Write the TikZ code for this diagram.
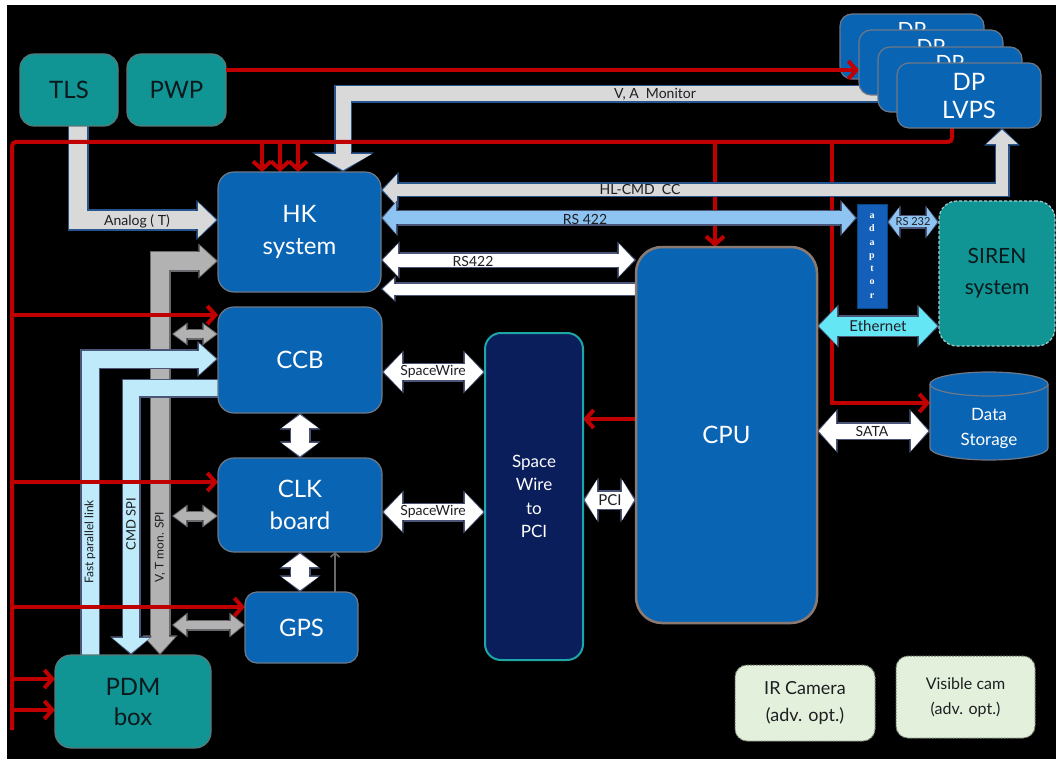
\documentclass[tikz,border=0pt]{standalone}
\usepackage{fontspec}
\setmainfont{Lato}
\newfontfamily\adfont{Liberation Serif}
\usetikzlibrary{arrows.meta,calc}
\pgfdeclarelayer{back}\pgfdeclarelayer{redback}\pgfdeclarelayer{arrows}\pgfdeclarelayer{redfront}
\pgfsetlayers{back,redback,arrows,redfront,main}
\definecolor{boxblue}{RGB}{10,100,180}
\definecolor{boxedge}{RGB}{110,120,135}
\definecolor{tealc}{RGB}{16,148,148}
\definecolor{tealedge}{RGB}{90,120,120}
\definecolor{tealtext}{RGB}{10,25,28}
\definecolor{redc}{RGB}{192,0,0}
\definecolor{lgrey}{RGB}{217,217,217}
\definecolor{oblue}{RGB}{40,85,140}
\definecolor{mgrey}{RGB}{178,178,178}
\definecolor{dgrey}{RGB}{105,105,110}
\definecolor{lblue}{RGB}{190,234,250}
\definecolor{rsblue}{RGB}{142,196,242}
\definecolor{ethc}{RGB}{100,230,245}
\definecolor{ogrey}{RGB}{75,85,120}
\definecolor{navyc}{RGB}{11,30,92}
\definecolor{spwedge}{RGB}{30,165,165}
\definecolor{cpuedge}{RGB}{140,122,112}
\definecolor{optfill}{RGB}{227,241,220}
\definecolor{optedge}{RGB}{120,130,115}
\definecolor{labtext}{RGB}{30,30,35}
\definecolor{adblue}{RGB}{20,95,185}
\definecolor{sirenedge}{RGB}{170,200,200}
\newcommand\fatarrow[7]{%
  \pgfmathsetmacro\fatW{#4+3}%
  \pgfmathsetmacro\fatH{#5+5}%
  \pgfmathsetmacro\fatL{#6+3.6}%
  \draw[line width=\fatW pt, draw=#3, line join=miter, >={Triangle[width=\fatH pt,length=\fatL pt,line width=0pt]}, #1] #7;
  \draw[line width=#4pt, draw=#2, line join=miter, >={Triangle[width=#5pt,length=#6pt,sep=1.8pt,line width=0pt]}, #1] #7;
}
\tikzset{
  box/.style={inner sep=0pt, outer sep=0pt, align=center, line width=1.2pt},
  bluebox/.style={box, fill=boxblue, draw=boxedge, text=white, rounded corners=16pt, font=\fontsize{24}{32}\selectfont},
  tealbox/.style={box, fill=tealc, draw=tealedge, text=tealtext, rounded corners=14pt, font=\fontsize{24}{30}\selectfont},
  dpbox/.style={box, fill=boxblue, draw=boxedge, text=white, rounded corners=12pt, font=\fontsize{24}{28}\selectfont, minimum width=144pt, minimum height=65pt},
  dptext/.style={inner sep=0pt, text=white, font=\fontsize{21}{24}\selectfont},
  optbox/.style={box, fill=optfill, draw=optedge, line width=1pt, dash pattern=on 2pt off 1pt, rounded corners=12pt, text=labtext},
  lab/.style={inner sep=0pt, text=labtext, font=\fontsize{13}{15}\selectfont},
  redline/.style={draw=redc, line width=4pt},
  redarr/.style={draw=redc, line width=4pt, -{Straight Barb[length=8pt,width=18pt]}},
  thinarr/.style={draw=dgrey, line width=1.6pt, -{Straight Barb[length=4pt,width=9pt]}},
}
\begin{document}
\begin{tikzpicture}[x=1pt,y=-1pt]
\useasboundingbox (0,0) rectangle (1056,759);
\begin{pgfonlayer}{back}
\fill[white] (0,0) rectangle (1056,759);
\fill[black] (7,5) rectangle (1056,759);
\end{pgfonlayer}

% ---- boxes
\node[tealbox, minimum width=98pt, minimum height=72pt] (TLS) at (69,90) {TLS};
\node[tealbox, minimum width=99pt, minimum height=72pt] (PWP) at (176.5,90) {PWP};
\node[dpbox] (DP1) at (912,46.5) {};
\node[dptext] (DP1t) at (912,30) {DP};
\coordinate (dp2w) at (859,70);
\draw[redarr] (PWP.east |- dp2w) -- (dp2w);
\node[dpbox] (DP2) at (931,62.5) {};
\node[dptext] (DP2t) at (931,46.5) {DP};
\node[dpbox] (DP3) at (950,79.5) {};
\node[dptext] (DP3t) at (950,63) {DP};
\node[dpbox] (DP4) at (969,95.5) {DP\\LVPS};
\node[bluebox, minimum width=163pt, minimum height=120pt] (HK) at (299.5,232) {HK\\system};
\node[bluebox, minimum width=164pt, minimum height=106pt] (CCB) at (300,360) {CCB};
\node[bluebox, minimum width=164pt, minimum height=94pt] (CLK) at (300,505) {CLK\\board};
\node[bluebox, minimum width=113pt, minimum height=71pt, rounded corners=12pt] (GPS) at (301.5,627.5) {GPS};
\node[tealbox, minimum width=156pt, minimum height=93pt, rounded corners=16pt] (PDM) at (133,701.5) {PDM\\box};
\node[box, fill=navyc, draw=spwedge, line width=2pt, rounded corners=16pt, minimum width=98pt, minimum height=327pt, text=white, font=\fontsize{17}{23.3}\selectfont] (SpW) at (534,496.5) {Space\\Wire\\to\\PCI};
\node[bluebox, draw=cpuedge, line width=2.5pt, rounded corners=26pt, minimum width=181pt, minimum height=376pt] (CPU) at (726.5,435) {CPU};
\node[box, fill=adblue, draw=boxblue!70!black, line width=0.8pt, minimum width=30pt, minimum height=104pt, text=white, font=\adfont\bfseries\fontsize{10}{13.3}\selectfont] (AD) at (872,256) {a\\d\\a\\p\\t\\o\\r};
\node[box, fill=tealc, draw=sirenedge, dash pattern=on 3pt off 2pt, rounded corners=18pt, minimum width=116pt, minimum height=145pt, text=tealtext, font=\fontsize{21}{31}\selectfont] (SIREN) at (997,273.5) {SIREN\\system};
\node[box, minimum width=118pt, minimum height=88pt] (DS) at (989,416) {};
\filldraw[fill=boxblue, draw=boxedge, line width=1.2pt] (930,384) -- (930,448) arc[start angle=180,end angle=360,x radius=59pt,y radius=12pt] -- (1048,384) arc[start angle=0,end angle=180,x radius=59pt,y radius=12pt] -- cycle;
\draw[boxedge, line width=1.2pt] (930,384) arc[start angle=180,end angle=360,x radius=59pt,y radius=12pt];
\node[inner sep=0pt, align=center, text=white, font=\fontsize{17}{25}\selectfont] (DSt) at (989,428) {Data\\Storage};
\node[optbox, minimum width=140pt, minimum height=76pt, font=\fontsize{18}{27}\selectfont] (IR) at (805,703) {IR Camera\\(adv. opt.)};
\node[optbox, minimum width=139pt, minimum height=82pt, font=\fontsize{16}{25}\selectfont] (VIS) at (965.5,697) {Visible cam\\(adv. opt.)};

% ---- red lines behind
\begin{pgfonlayer}{redback}
\draw[redarr] (715,142) -- (CPU.north -| 715,0);
\draw[redarr] (832,142) -- (832,403) -- (DS.west |- 0,403);
\end{pgfonlayer}

% ---- fat arrows
\begin{pgfonlayer}{arrows}
\fatarrow{->}{lgrey}{oblue}{15}{57}{16}{(DP3.center |- 0,94) -- (343,94) -- (HK.north -| 343,0)}
\fatarrow{<->}{lgrey}{oblue}{12}{31}{14}{(HK.east |- 0,190) -- (1002,190) -- (DP4.south -| 1002,0)}
\fatarrow{->}{lgrey}{oblue}{18}{35}{18}{(TLS.south -| 78,0) -- (78,220) -- (HK.west |- 0,220)}
\fatarrow{<->}{rsblue}{ogrey}{13}{31}{13}{(HK.east |- 0,218) -- (AD.west |- 0,218)}
\fatarrow{<->}{white}{ogrey}{13}{32}{15}{(HK.east |- 0,260) -- (CPU.west |- 0,260)}
\fatarrow{->}{white}{ogrey}{11}{21}{11}{(CPU.west |- 0,289) -- (HK.east |- 0,289)}
\fatarrow{<->}{white}{ogrey}{16}{38}{18}{(CCB.east |- 0,372) -- (SpW.west |- 0,372)}
\fatarrow{<->}{white}{ogrey}{16}{38}{18}{(CLK.east |- 0,512) -- (SpW.west |- 0,512)}
\fatarrow{<->}{white}{ogrey}{17}{40}{12}{(SpW.east |- 0,500) -- (CPU.west |- 0,500)}
\fatarrow{<->}{white}{ogrey}{15}{39}{17}{(CPU.east |- 0,431) -- (DS.west |- 0,431)}
\fatarrow{<->}{ethc}{ogrey}{19}{38}{18}{(CPU.east |- 0,326) -- (SIREN.west |- 0,326)}
\fatarrow{<->}{rsblue}{ogrey}{11}{28}{10}{(AD.east |- 0,222) -- (SIREN.west |- 0,222)}
\fatarrow{<->}{white}{ogrey}{18}{36}{13}{(CCB.south) -- (CLK.north)}
\fatarrow{<->}{white}{ogrey}{18}{36}{13}{(CLK.south) -- (CLK.south |- GPS.north)}
\fatarrow{<->}{mgrey}{dgrey}{18}{30}{16}{(HK.west |- 0,261) -- (160,261) -- (PDM.north -| 160,0)}
\fatarrow{->}{lblue}{ogrey}{17}{31}{17}{(PDM.north -| 90,0) -- (90,359) -- (CCB.west |- 0,359)}
\fatarrow{->}{lblue}{ogrey}{16}{37}{15}{(CCB.west |- 0,388) -- (131,388) -- (PDM.north -| 131,0)}
\coordinate (g1) at (172,334);
\coordinate (g2) at (172,516);
\coordinate (g3) at (172,625);
\fatarrow{<->}{mgrey}{dgrey}{8}{18}{12}{(g1) -- (CCB.west |- g1)}
\fatarrow{<->}{mgrey}{dgrey}{8}{18}{12}{(g2) -- (CLK.west |- g2)}
\fatarrow{<->}{mgrey}{dgrey}{8}{20}{12}{(g3) -- (GPS.west |- g3)}
\draw[thinarr] (GPS.north -| 335,0) -- (CLK.south -| 335,0);
\end{pgfonlayer}

% ---- red lines in front
\begin{pgfonlayer}{redfront}
\draw[redline, rounded corners=4pt] (12,730) -- (12,142) -- (952,142) -- (DP4.south -| 952,0);
\draw[redarr] (262,142) -- (HK.north -| 262,0);
\draw[redarr] (280,142) -- (HK.north -| 280,0);
\draw[redarr] (298,142) -- (HK.north -| 298,0);
\draw[redarr] (12,315) -- (CCB.west |- 0,315);
\draw[redarr] (12,482) -- (CLK.west |- 0,482);
\draw[redarr] (12,607) -- (GPS.west |- 0,607);
\draw[redarr] (12,679) -- (PDM.west |- 0,679);
\draw[redarr] (12,710) -- (PDM.west |- 0,710);
\draw[redarr] (CPU.west |- 0,419) -- (SpW.east |- 0,419);
\end{pgfonlayer}

% ---- labels
\node[lab, font=\fontsize{14}{16}\selectfont] (lVA) at (655,94) {V, A\ \ Monitor};
\node[lab, font=\fontsize{14}{16}\selectfont] (lHL) at (640,189) {HL-CMD\ \ CC};
\node[lab, font=\fontsize{14}{16}\selectfont] (lRS1) at (585,219) {RS 422};
\node[lab, font=\fontsize{14}{16}\selectfont] (lRS2) at (473,261) {RS422};
\node[lab, font=\fontsize{14}{16}\selectfont] (lAn) at (137,221) {Analog ( T)};
\node[lab, font=\fontsize{14}{16}\selectfont] (lSW1) at (433,372) {SpaceWire};
\node[lab, font=\fontsize{14}{16}\selectfont] (lSW2) at (433,512) {SpaceWire};
\node[lab, font=\fontsize{15}{17}\selectfont] (lPCI) at (610,500) {PCI};
\node[lab, font=\fontsize{14}{16}\selectfont] (lSATA) at (872,431) {SATA};
\node[lab, font=\fontsize{15}{17}\selectfont] (lEth) at (878,326) {Ethernet};
\node[lab, font=\fontsize{11}{13}\selectfont] (lRS232) at (913,222) {RS 232};
\node[lab, rotate=90, font=\fontsize{12}{14}\selectfont] (lFast) at (90,542) {Fast parallel link};
\node[lab, rotate=90] (lCMD) at (131,524) {CMD SPI};
\node[lab, rotate=90, font=\fontsize{12}{14}\selectfont] (lVT) at (160,547) {V, T mon. SPI};
\end{tikzpicture}
\end{document}
